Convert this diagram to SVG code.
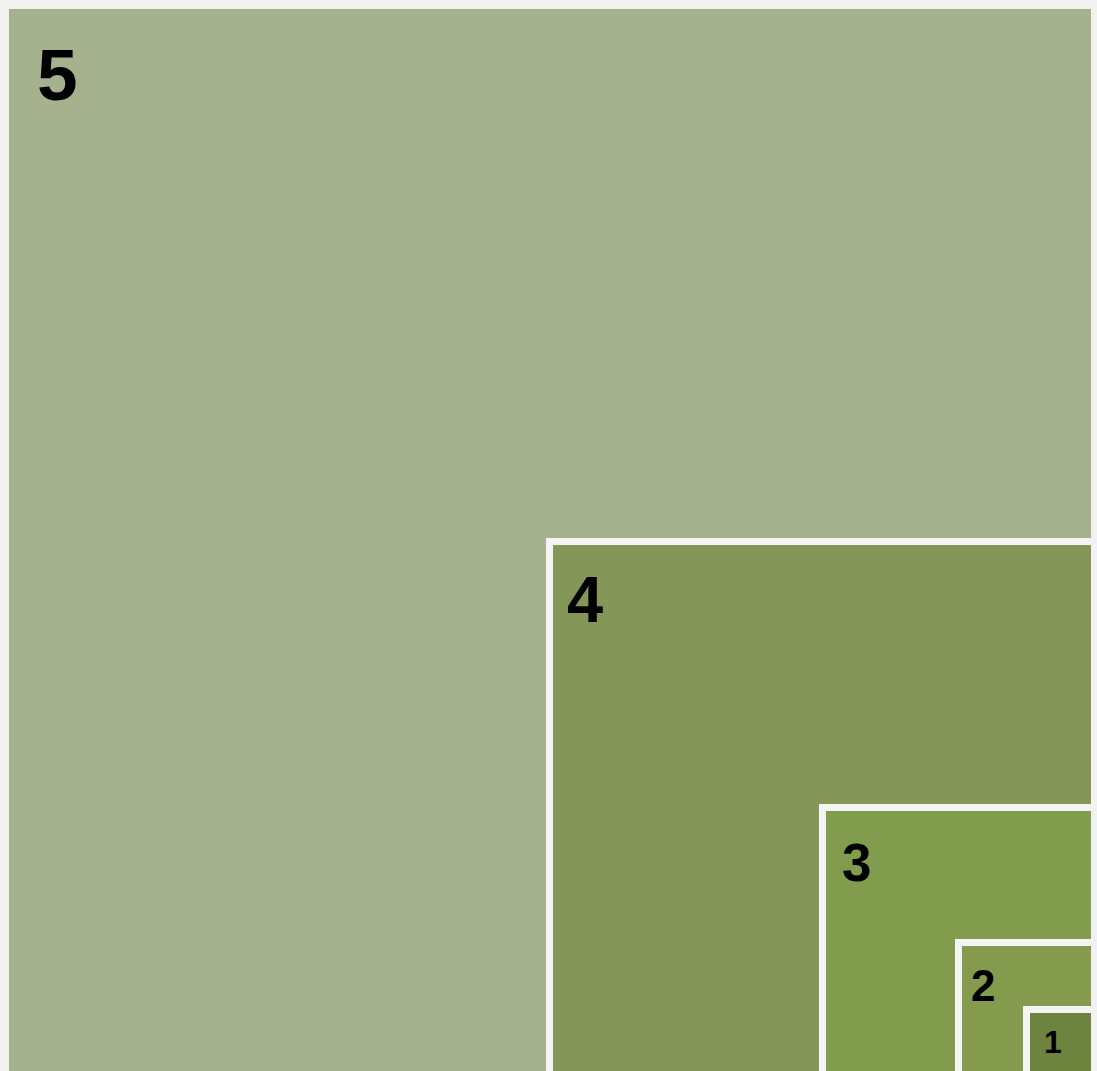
<svg xmlns="http://www.w3.org/2000/svg" width="1097" height="1071" viewBox="0 0 1097 1071">
<style>
.lbl{font-family:"Liberation Sans",Arial,sans-serif;font-weight:bold;fill:#000}
.edge{fill:#f4f4f4}
</style>
<defs>
<clipPath id="c"><rect x="9" y="9" width="1082" height="1062"/></clipPath>
</defs>
<rect width="1097" height="1071" fill="#f2f2f2"/>
<g clip-path="url(#c)">
<g id="n5">
<rect x="9" y="9" width="1082" height="1100" fill="#a6b28e"/>
<text class="lbl" x="37" y="100" font-size="73">5</text>
</g>
<g id="n4">
<rect class="edge" x="546" y="538" width="560" height="560"/>
<rect x="553" y="545" width="560" height="560" fill="#849658"/>
<text class="lbl" x="567" y="622" font-size="65">4</text>
</g>
<g id="n3">
<rect class="edge" x="819" y="804" width="300" height="300"/>
<rect x="826" y="811" width="300" height="300" fill="#819c4d"/>
<text class="lbl" x="842" y="881" font-size="53">3</text>
</g>
<g id="n2">
<rect class="edge" x="955" y="939" width="160" height="160"/>
<rect x="962" y="946" width="160" height="160" fill="#849a4c"/>
<text class="lbl" x="971" y="1001" font-size="44">2</text>
</g>
<g id="n1">
<rect class="edge" x="1023" y="1006" width="100" height="100"/>
<rect x="1030" y="1013" width="100" height="100" fill="#6e833d"/>
<text class="lbl" x="1044" y="1053" font-size="32">1</text>
</g>
</g>
<g id="connectors"/>
</svg>
